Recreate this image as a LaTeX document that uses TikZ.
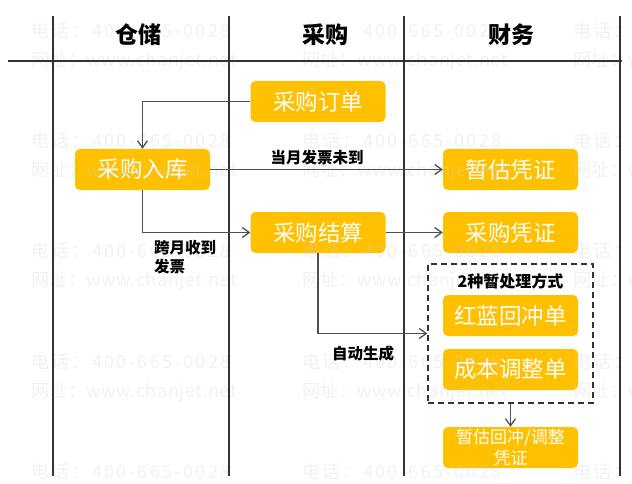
\documentclass[tikz,border=0pt]{standalone}
\usepackage{fontspec}
\setmainfont{Noto Sans CJK SC}
\usetikzlibrary{arrows.meta}
\definecolor{boxc}{HTML}{FFC000}
\definecolor{linec}{HTML}{333333}
\definecolor{arrc}{HTML}{505050}
\definecolor{wmc}{HTML}{D0D0D0}
\begin{document}
\begin{tikzpicture}[x=1pt,y=-1pt,
  lane/.style={draw=linec, line width=2pt},
  box/.style={fill=boxc, rounded corners=5pt, minimum width=135pt, minimum height=41pt,
    text=white, font=\fontsize{22.5}{24}\selectfont, inner sep=0pt},
  smallbox/.style={box, font=\fontsize{17}{21}\selectfont, align=center},
  hdr/.style={font=\bfseries\fontsize{23}{26}\selectfont, inner sep=0pt},
  lbl/.style={font=\bfseries\fontsize{15.5}{19}\selectfont, inner sep=0pt},
  conn/.style={draw=arrc, line width=1.3pt,
    -{Straight Barb[length=7pt,width=10pt,line width=1.3pt]}},
  grpbox/.style={draw=linec, line width=1.4pt, dash pattern=on 6pt off 4pt,
    minimum width=165pt, minimum height=139pt, inner sep=0pt},
  wm/.style={text=wmc, text opacity=0.3, inner sep=0pt, anchor=west,
    font=\fontsize{18}{20}\selectfont\addfontfeature{LetterSpace=13}},
  wmb/.style={wm, font=\fontsize{18}{20}\selectfont\addfontfeature{LetterSpace=3}}
]
\useasboundingbox (0,0) rectangle (632,484);

% boxes
\node[box] (po) at (318,101.5) {采购订单};
\node[box] (in) at (142.5,169.5) {采购入库};
\node[box] (zg) at (510.5,169.5) {暂估凭证};
\node[box] (js) at (318,232.5) {采购结算};
\node[box] (pz) at (510.5,232.5) {采购凭证};
\node[box] (hl) at (510.5,315.5) {红蓝回冲单};
\node[box] (cb) at (510.5,369.5) {成本调整单};
\node[smallbox] (hz) at (510.5,447.5) {暂估回冲/调整\\凭证};

% watermark
\foreach \c in {31,302,573} {
  \foreach \r in {0,1,2,3,4} {
    \node[wm] (wa-\c-\r) at (\c, 30.5+110.3*\r) {电话：400-665-0028};
    \node[wmb] (wb-\c-\r) at (\c, 61+110.3*\r) {网址：www.chanjet.net};
  }
}

% lanes
\coordinate (t1) at (53.3,16); \coordinate (b1) at (53.3,476);
\coordinate (t2) at (229,16);  \coordinate (b2) at (229,476);
\coordinate (t3) at (404,16);  \coordinate (b3) at (404,476);
\coordinate (t4) at (620,16);  \coordinate (b4) at (620,476);
\coordinate (hl1) at (8,61);   \coordinate (hl2) at (621.5,61);
\draw[lane] (t1) -- (b1);
\draw[lane] (t2) -- (b2);
\draw[lane] (t3) -- (b3);
\draw[lane] (t4) -- (b4);
\draw[lane] (hl1) -- (hl2);

% headers
\node[hdr] (h1) at (138.5,34.5) {仓储};
\node[hdr] (h2) at (325,34.5) {采购};
\node[hdr] (h3) at (511,34.5) {财务};

% group
\node[grpbox] (grp) at (510.5,333.5) {};
\node[lbl, font=\bfseries\fontsize{16}{19}\selectfont] (gt) at (510.5,281) {2种暂处理方式};

% connectors
\draw[conn] (po.west) -| (in.north);
\draw[conn] (in.east) -- (zg.west);
\draw[conn] (in.south) |- (js.west);
\draw[conn] (js.east) -- (pz.west);
\draw[conn] (js.south) |- (grp.west);
\draw[conn] (grp.south) -- (hz.north);

% labels
\node[lbl] (l1) at (317,158) {当月发票未到};
\node[lbl, align=left, anchor=west] (l2) at (154,257.5) {跨月收到\\发票};
\node[lbl] (l3) at (363,354) {自动生成};
\end{tikzpicture}
\end{document}
